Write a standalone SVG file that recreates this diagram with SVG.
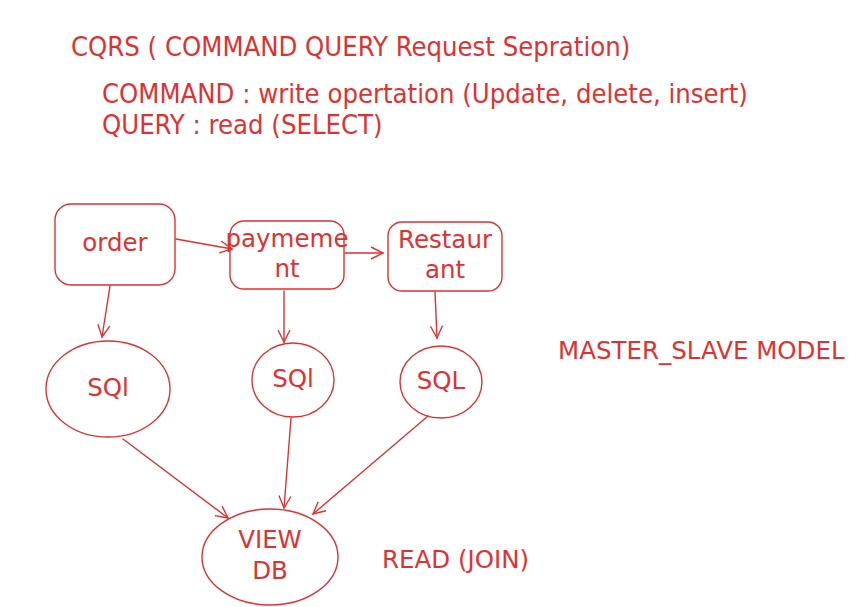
<svg xmlns="http://www.w3.org/2000/svg" width="852" height="607" viewBox="0 0 852 607">
<style>
.s{fill:none;stroke:#e03131;stroke-width:1.4;stroke-linecap:round;stroke-linejoin:round}
.t{fill:#e03131;font-family:"DejaVu Sans",sans-serif;font-size:24.5px}
.h{fill:#e03131;font-family:"DejaVu Sans Condensed","DejaVu Sans",sans-serif;font-size:27.2px}
.c{text-anchor:middle}
</style>
<defs>
<marker id="a" markerWidth="16" markerHeight="16" refX="14" refY="8" orient="auto" markerUnits="userSpaceOnUse">
<path d="M2,2 L14,8 L2,14" fill="none" stroke="#e03131" stroke-width="1.4"/>
</marker>
</defs>
<rect width="852" height="607" fill="#fff"/>
<g id="title">
<text class="h" x="71" y="56">CQRS ( COMMAND QUERY Request Sepration)</text>
<text class="h" x="102" y="103">COMMAND : write opertation (Update, delete, insert)</text>
<text class="h" x="102" y="134">QUERY : read (SELECT)</text>
</g>
<g id="order"><rect class="s" x="55" y="204" width="120" height="81" rx="16"/><text class="t c" x="115" y="251">order</text></g>
<g id="payment"><rect class="s" x="230" y="221" width="114" height="68" rx="14"/><text class="t c" x="287" y="247">paymeme</text><text class="t c" x="287" y="277">nt</text></g>
<g id="restaurant"><rect class="s" x="388" y="222" width="114" height="69" rx="14"/><text class="t c" x="445" y="248">Restaur</text><text class="t c" x="445" y="278">ant</text></g>
<g id="sql1"><ellipse class="s" cx="108" cy="389" rx="62" ry="48"/><text class="t c" x="108" y="396">SQl</text></g>
<g id="sql2"><ellipse class="s" cx="293" cy="380" rx="41" ry="37"/><text class="t c" x="293" y="387">SQl</text></g>
<g id="sql3"><ellipse class="s" cx="441" cy="382" rx="41" ry="36"/><text class="t c" x="441" y="389">SQL</text></g>
<g id="viewdb"><ellipse class="s" cx="270" cy="557" rx="68" ry="48"/><text class="t c" x="270" y="548">VIEW</text><text class="t c" x="270" y="579">DB</text></g>
<g id="labels">
<text class="t" x="558" y="359">MASTER_SLAVE MODEL</text>
<text class="t" x="382" y="568">READ (JOIN)</text>
</g>
<g id="connectors">
<line class="s" x1="176" y1="239" x2="232" y2="249" marker-end="url(#a)"/>
<line class="s" x1="345" y1="253" x2="383" y2="253" marker-end="url(#a)"/>
<line class="s" x1="110" y1="286" x2="102" y2="337" marker-end="url(#a)"/>
<line class="s" x1="284" y1="291" x2="284" y2="342" marker-end="url(#a)"/>
<line class="s" x1="435" y1="292" x2="437" y2="338" marker-end="url(#a)"/>
<line class="s" x1="123" y1="439" x2="228" y2="518" marker-end="url(#a)"/>
<line class="s" x1="291" y1="418" x2="284" y2="508" marker-end="url(#a)"/>
<line class="s" x1="428" y1="416" x2="313" y2="514" marker-end="url(#a)"/>
</g>
</svg>
